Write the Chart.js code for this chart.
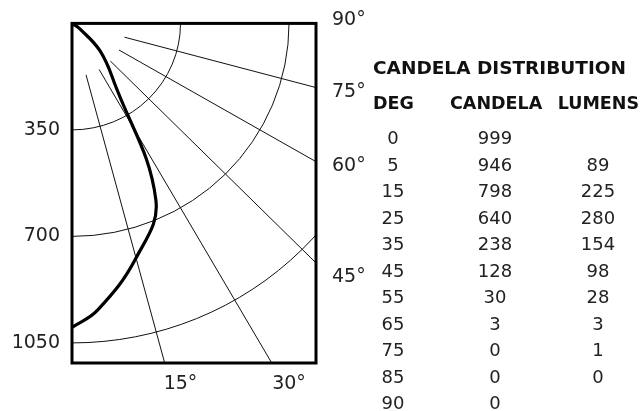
<!DOCTYPE html>
<html>
<head>
<meta charset="utf-8">
<script src="https://cdn.jsdelivr.net/npm/chart.js@4.4.1/dist/chart.umd.min.js"></script>
<style>
  html, body { margin: 0; padding: 0; background: #fff; }
  #wrap { position: relative; width: 644px; height: 411px; font-family: "DejaVu Sans", sans-serif; color: #222; }
  #myChart { position: absolute; left: 0; top: 0; }
  .cell { position: absolute; transform: translate(-50%, -50%); white-space: nowrap; font-size: 18px; }
  .head { position: absolute; transform: translateY(-50%); white-space: nowrap; font-weight: bold; font-size: 18.5px; color: #111; }
  .head.small { font-size: 17.5px; }
  .head.end { transform: translate(-100%, -50%); }
</style>
</head>
<body>
<div id="wrap">
  <canvas id="myChart" width="644" height="411"></canvas>
</div>
<script>
// candela distribution
let degrees = [0, 5, 15, 25, 35, 45, 55, 65, 75, 85, 90]
let candela = [999, 946, 798, 640, 238, 128, 30, 3, 0, 0, 0]
let lumens = [null, 89, 225, 280, 154, 98, 28, 3, 1, 0, null]

// polar grid
let rings = [350, 700, 1050]
let spokes = [15, 30, 45, 60, 75]
let spokeStart = 175
let yTickValues = [350, 700, 1050]
let xTickValues = [350, 700]
let xTickLabels = ['15°', '30°']
let sideAngles = [90, 75, 60, 45]
let sideOffsets = [-3, 4, 4, 14]

let xMax = 787
let yMax = 1116

let points = degrees.map((d, i) => ({
    x: candela[i] * Math.sin(d * Math.PI / 180),
    y: candela[i] * Math.cos(d * Math.PI / 180)
}))

let polarGrid = {
    id: 'polarGrid',
    beforeDatasetsDraw(chart) {
        let ctx = chart.ctx
        let a = chart.chartArea
        let xs = chart.scales.x
        let ys = chart.scales.y
        let ox = xs.getPixelForValue(0)
        let oy = ys.getPixelForValue(0)
        ctx.save()
        ctx.beginPath()
        ctx.rect(a.left, a.top, a.right - a.left, a.bottom - a.top)
        ctx.clip()
        ctx.strokeStyle = '#111'
        ctx.lineWidth = 1
        rings.forEach(r => {
            let rx = xs.getPixelForValue(r) - ox
            let ry = ys.getPixelForValue(r) - oy
            ctx.beginPath()
            ctx.ellipse(ox, oy, rx, ry, 0, 0, Math.PI / 2)
            ctx.stroke()
        })
        spokes.forEach(s => {
            let t = s * Math.PI / 180
            ctx.beginPath()
            ctx.moveTo(xs.getPixelForValue(spokeStart * Math.sin(t)), ys.getPixelForValue(spokeStart * Math.cos(t)))
            ctx.lineTo(xs.getPixelForValue(3000 * Math.sin(t)), ys.getPixelForValue(3000 * Math.cos(t)))
            ctx.stroke()
        })
        ctx.restore()
    },
    afterDatasetsDraw(chart) {
        let ctx = chart.ctx
        let a = chart.chartArea
        let ys = chart.scales.y
        ctx.save()
        ctx.strokeStyle = '#000'
        ctx.lineWidth = 3
        ctx.strokeRect(a.left, a.top, a.right - a.left, a.bottom - a.top)
        ctx.fillStyle = '#222'
        ctx.font = '19px "DejaVu Sans"'
        ctx.textAlign = 'left'
        ctx.textBaseline = 'middle'
        sideAngles.forEach((d, i) => {
            let t = d * Math.PI / 180
            let yv = d == 90 ? 0 : xMax / Math.tan(t)
            ctx.fillText(d + '°', a.right + 16, ys.getPixelForValue(yv) + sideOffsets[i])
        })
        ctx.restore()
    }
}

let chartObject = new Chart($('myChart'), {
    type: 'scatter',
    data: {
        datasets: [{
            data: points,
            showLine: true,
            tension: 0.4,
            borderColor: '#000',
            borderWidth: 3.2,
            pointRadius: 0,
            fill: false
        }]
    },
    options: {
        responsive: false,
        animation: false,
        layout: { padding: { left: 0, top: 17, right: 328, bottom: 0 } },
        plugins: { legend: { display: false }, tooltip: { enabled: false } },
        scales: {
            x: {
                type: 'linear',
                min: 0,
                max: xMax,
                grid: { display: false, drawTicks: false },
                border: { display: false },
                afterFit: s => { s.height = 48 },
                afterBuildTicks: s => { s.ticks = xTickValues.map(v => ({ value: v })) },
                ticks: {
                    padding: 10,
                    color: '#222',
                    font: { family: 'DejaVu Sans', size: 19 },
                    maxRotation: 0,
                    callback: (v) => xTickLabels[xTickValues.indexOf(v)]
                }
            },
            y: {
                type: 'linear',
                reverse: true,
                min: 0,
                max: yMax,
                grid: { display: false, drawTicks: false },
                border: { display: false },
                afterFit: s => { s.width = 72 },
                afterBuildTicks: s => { s.ticks = yTickValues.map(v => ({ value: v })) },
                ticks: {
                    padding: 12,
                    color: '#222',
                    font: { family: 'DejaVu Sans', size: 19 },
                    callback: (v) => String(v)
                }
            }
        }
    },
    plugins: [polarGrid]
})

function $(id) { return document.getElementById(id) }

// table at the right
let wrap = $('wrap')
function addText(cls, text, x, y) {
    let el = document.createElement('div')
    el.className = cls
    el.textContent = text
    el.style.left = x + 'px'
    el.style.top = y + 'px'
    wrap.appendChild(el)
}
addText('head', 'CANDELA DISTRIBUTION', 373, 67)
addText('head small', 'DEG', 373, 103)
addText('head small', 'CANDELA', 450, 103)
addText('head small end', 'LUMENS', 639, 103)
degrees.forEach((d, i) => {
    let y = 137 + 26.5 * i
    addText('cell', d, 393, y)
    addText('cell', candela[i], 495, y)
    if (lumens[i] != null) addText('cell', lumens[i], 598, y)
})
</script>
</body>
</html>
